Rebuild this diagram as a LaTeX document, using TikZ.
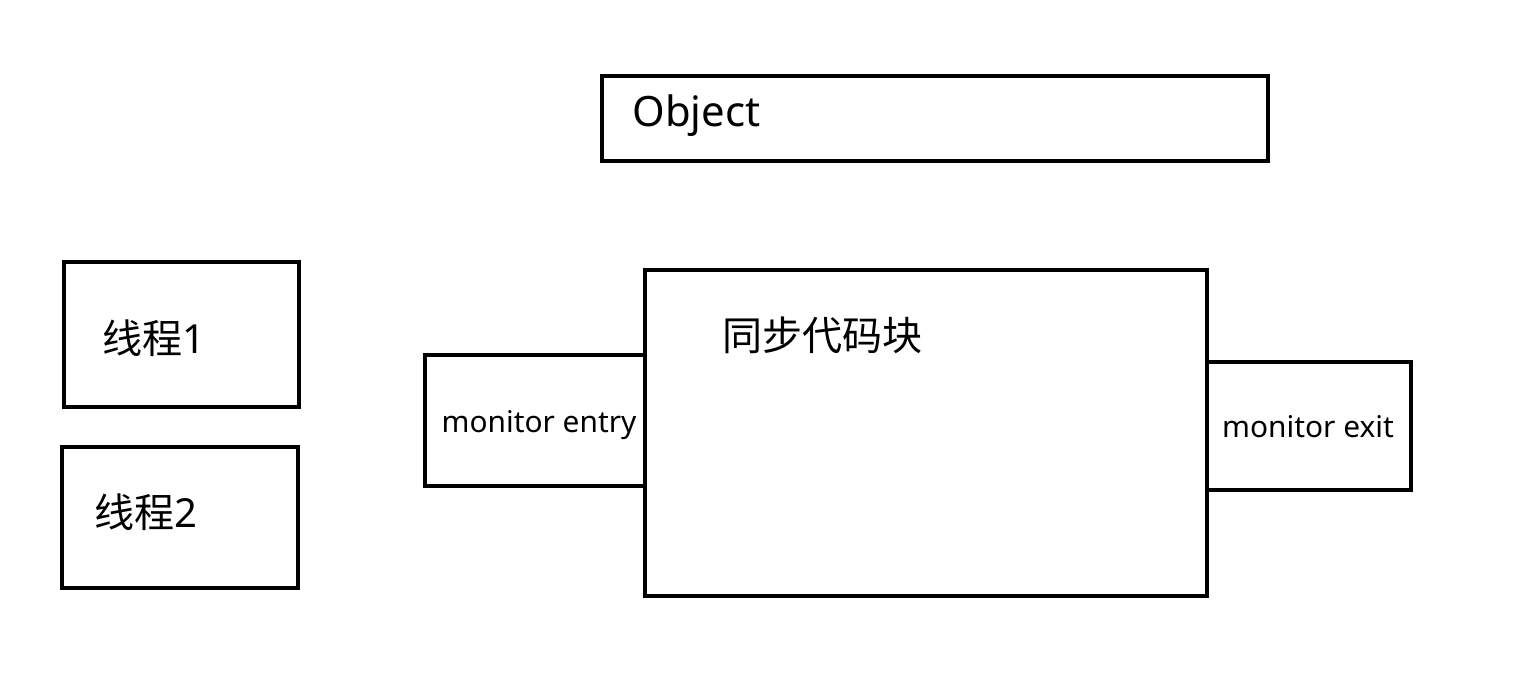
\documentclass[tikz,border=0pt]{standalone}
\usepackage{fontspec}
\setmainfont{Noto Sans}
\newfontfamily\cjk{Noto Sans CJK SC}

\begin{document}
\begin{tikzpicture}[x=0.02cm, y=-0.02cm,
	box/.style={draw, line width=0.08cm, inner sep=0pt},
	bigtext/.style={inner sep=0pt, anchor=west, font=\fontsize{22.8}{27}\selectfont},
	smalltext/.style={inner sep=0pt, anchor=base, font=\fontsize{17}{20}\selectfont}]
	\useasboundingbox (0,0) rectangle (1520,679);
	% boxes
	\node[box, minimum width=13.32cm, minimum height=1.70cm] (object) at (935,118.5) {};
	\node[box, minimum width=4.70cm, minimum height=2.90cm] (thread1) at (181.5,334.5) {};
	\node[box, minimum width=4.72cm, minimum height=2.82cm] (thread2) at (180,517.5) {};
	\node[box, minimum width=4.40cm, minimum height=2.62cm] (entry) at (535,420.5) {};
	\node[box, minimum width=11.24cm, minimum height=6.52cm] (block) at (926,433) {};
	\node[box, minimum width=4.08cm, minimum height=2.56cm] (exit) at (1309,426) {};
	% texts
	\node[bigtext, anchor=base west, font=\fontsize{23.8}{28}\selectfont] (objecttext) at (632,127) {Object};
	\node[bigtext] (thread1text) at (102,338) {{\cjk 线程}1};
	\node[bigtext] (thread2text) at (94,512) {{\cjk 线程}2};
	\node[bigtext] (blocktext) at (722,335) {\cjk 同步代码块};
	\node[smalltext] (entrytext) at (539,432) {monitor entry};
	\node[smalltext] (exittext) at (1308,437) {monitor exit};
\end{tikzpicture}
\end{document}
